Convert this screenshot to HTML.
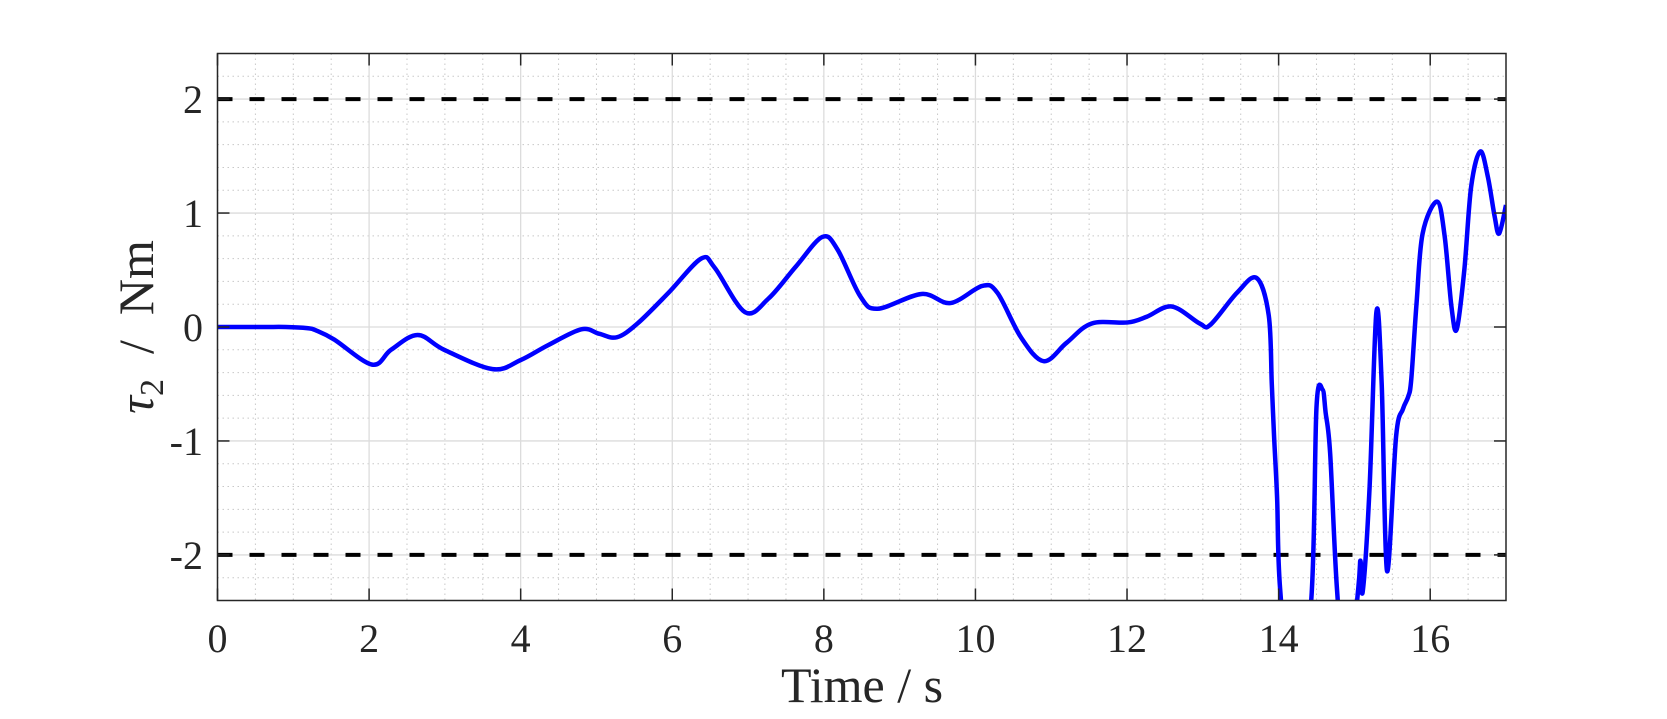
<!DOCTYPE html>
<html><head><meta charset="utf-8"><style>
html,body{margin:0;padding:0;background:#fff;}
svg{display:block;}
text{font-family:"Liberation Serif",serif;fill:#262626;}
</style></head><body>
<svg id="chart" width="1667" height="719" viewBox="0 0 1667 719" xmlns="http://www.w3.org/2000/svg">
<rect x="0" y="0" width="1667" height="719" fill="#fff"/>
<defs><clipPath id="plotclip"><rect x="217.5" y="53.5" width="1288.5" height="547"/></clipPath></defs>
<g id="grid"></g>
<g id="limits" clip-path="url(#plotclip)"></g>
<g id="series" clip-path="url(#plotclip)"></g>
<g id="axes"></g>
<text x="862" y="702" font-size="50" text-anchor="middle">Time / s</text>
<text transform="translate(153,327) rotate(-90)" font-size="50" text-anchor="middle" xml:space="preserve"><tspan font-style="italic">τ</tspan><tspan font-size="34" dy="10">2</tspan><tspan dy="-10">  /  Nm</tspan></text>
</svg>
<script>
const xTicks = [0,2,4,6,8,10,12,14,16];
const yTicks = [-2,-1,0,1,2];
const limitValues = [2,-2];
const timeValues = [0,0.6,0.9,1.18,1.3,1.54,2.04,2.29,2.64,2.99,3.63,4.0,4.36,4.8,5.04,5.27,5.54,5.95,6.38,6.56,6.96,7.27,7.63,7.98,8.18,8.48,8.71,9.29,9.67,10.09,10.29,10.6,10.9,11.2,11.53,12.01,12.26,12.59,12.96,13.1,13.45,13.71,13.87,13.91,13.94,13.98,14.02,14.2,14.43,14.5,14.58,14.62,14.68,14.77,14.9,15.05,15.08,15.11,15.2,15.29,15.36,15.43,15.55,15.64,15.71,15.75,15.82,15.9,16.09,16.19,16.28,16.35,16.45,16.54,16.66,16.76,16.85,16.91,17.0];
const torqueValues = [0,0,0,-0.01,-0.03,-0.11,-0.33,-0.2,-0.07,-0.2,-0.37,-0.29,-0.16,-0.02,-0.06,-0.09,0.03,0.30,0.60,0.52,0.13,0.25,0.53,0.79,0.68,0.27,0.16,0.29,0.21,0.36,0.30,-0.09,-0.30,-0.14,0.03,0.04,0.09,0.18,0.03,0.02,0.30,0.43,0.1,-0.5,-0.96,-1.5,-2.3,-3.4,-2.4,-0.7,-0.55,-0.75,-1.11,-2.3,-3.2,-2.3,-2.05,-2.32,-1.41,0.13,-0.5,-2.14,-0.96,-0.72,-0.61,-0.46,0.21,0.82,1.10,0.80,0.18,-0.02,0.50,1.23,1.54,1.32,0.97,0.82,1.07];

const X0=217.5, X1=1506, Y0=53.5, Y1=600.5, XMIN=0, XMAX=17, YMIN=-2.4, YMAX=2.4;
const sx = v => X0 + (v-XMIN)/(XMAX-XMIN)*(X1-X0);
const sy = v => Y1 - (v-YMIN)/(YMAX-YMIN)*(Y1-Y0);
const NS="http://www.w3.org/2000/svg";
function mk(tag, attrs, parent){const e=document.createElementNS(NS,tag);for(const k in attrs)e.setAttribute(k,attrs[k]);parent.appendChild(e);return e;}
const grid=document.getElementById('grid'), axes=document.getElementById('axes');
for(let i=1;i<34;i++){ if(i%4===0) continue; const v=i*0.5; const l=mk('line',{x1:sx(v),x2:sx(v),y1:Y0,y2:Y1,stroke:'#c8c8c8','stroke-width':1,'stroke-dasharray':'1.5,3.5'},grid);

}
for(let i=-12;i<=12;i++){ if(i%5===0) continue; const v=i*0.2; const l=mk('line',{x1:X0,x2:X1,y1:sy(v),y2:sy(v),stroke:'#c8c8c8','stroke-width':1,'stroke-dasharray':'1.5,3.5'},grid);

}
xTicks.forEach(v=>{ const l=mk('line',{x1:sx(v),x2:sx(v),y1:Y0,y2:Y1,stroke:'#dcdcdc','stroke-width':1.3},grid);


const t1=mk('line',{x1:sx(v),x2:sx(v),y1:Y1,y2:Y1-12,stroke:'#262626','stroke-width':1.5},axes);


const t2=mk('line',{x1:sx(v),x2:sx(v),y1:Y0,y2:Y0+12,stroke:'#262626','stroke-width':1.5},axes);


const tx=mk('text',{x:sx(v),y:652,'font-size':40,'text-anchor':'middle'},axes); tx.textContent=String(v);

});
yTicks.forEach(v=>{ const l=mk('line',{x1:X0,x2:X1,y1:sy(v),y2:sy(v),stroke:'#dcdcdc','stroke-width':1.3},grid);


const t1=mk('line',{x1:X0,x2:X0+12,y1:sy(v),y2:sy(v),stroke:'#262626','stroke-width':1.5},axes);


const t2=mk('line',{x1:X1,x2:X1-12,y1:sy(v),y2:sy(v),stroke:'#262626','stroke-width':1.5},axes);


const tx=mk('text',{x:203,y:sy(v)+14,'font-size':40,'text-anchor':'end'},axes); tx.textContent=String(v);

});
const box=mk('rect',{x:X0,y:Y0,width:X1-X0,height:Y1-Y0,fill:'none',stroke:'#262626','stroke-width':1.5},axes);


const lim=document.getElementById('limits');
limitValues.forEach(v=>{ const l=mk('line',{x1:X0,x2:X1,y1:sy(v),y2:sy(v),stroke:'#000','stroke-width':4,'stroke-dasharray':'15,17'},lim);

});
const pts=timeValues.map((t,i)=>[sx(t),sy(torqueValues[i])]);
let d='M'+pts[0][0]+','+pts[0][1];
for(let i=0;i<pts.length-1;i++){const p0=pts[Math.max(0,i-1)],p1=pts[i],p2=pts[i+1],p3=pts[Math.min(pts.length-1,i+2)];
const k=1/6; d+=' C'+(p1[0]+(p2[0]-p0[0])*k)+','+(p1[1]+(p2[1]-p0[1])*k)+' '+(p2[0]-(p3[0]-p1[0])*k)+','+(p2[1]-(p3[1]-p1[1])*k)+' '+p2[0]+','+p2[1];}
const path=mk('path',{d:d,fill:'none',stroke:'#0000ff','stroke-width':4.5,'stroke-linejoin':'round'},document.getElementById('series'));


</script>
</body></html>
